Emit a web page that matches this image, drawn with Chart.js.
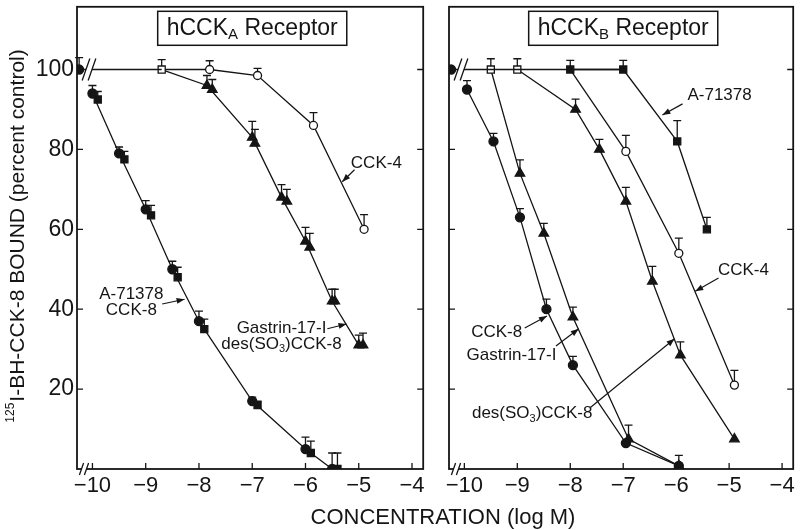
<!DOCTYPE html>
<html lang="en">
<head>
<meta charset="utf-8">
<title>hCCK receptor binding</title>
<script src="https://cdn.jsdelivr.net/npm/chart.js@4.4.1/dist/chart.umd.min.js"></script>
<style>
  html, body { margin: 0; padding: 0; background: #fff; }
  #wrap { position: relative; width: 800px; height: 530px; overflow: hidden; }
  canvas { position: absolute; top: 0; }
  #cA { left: 0; }
  #cB { left: 430px; }
  #xTitle { position: absolute; left: 0; width: 886px; top: 504px; text-align: center;
            font: 22px "Liberation Sans", Arial, sans-serif; color: #151515; }
</style>
</head>
<body>
<div id="wrap">
  <canvas id="cA" width="430" height="530"></canvas>
  <canvas id="cB" width="370" height="530"></canvas>
  <div id="xTitle">CONCENTRATION (log M)</div>
</div>
<script>
// ejes
const xTickVals = [-10, -9, -8, -7, -6, -5, -4];
const yTickVals = [20, 40, 60, 80, 100];

// panel izquierdo: hCCK-A
const ctrlAX = [-10.25, -8.7];
const ctrlAY = [100, 100];
const ctrlAErr = [3, 0];
const cck8AX = [-10.0, -9.5, -9.0, -8.5, -8.0, -7.0, -6.0, -5.5];
const cck8AY = [94, 79, 65, 50, 37, 17, 5, 0];
const cck8AErr = [2, 1.6, 2.2, 2, 2.5, 1, 3, 4];
const a71AX = [-9.9, -9.4, -8.9, -8.4, -7.9, -6.9, -5.9, -5.4];
const a71AY = [92.5, 77.5, 63.5, 48, 35, 16, 4, 0];
const a71AErr = [2, 2, 2.5, 2.5, 2.5, 1, 3, 4];
const cck4AX = [-8.7, -7.8, -6.9, -5.85, -4.9];
const cck4AY = [100, 100, 98.5, 86, 60];
const cck4AErr = [2.5, 2.2, 1.8, 3.2, 3.7];
const gasAX = [-8.7, -7.85, -7.0, -6.45, -6.0, -5.5, -5.0];
const gasAY = [100, 96, 83, 68, 57, 42, 31];
const gasAErr = [0, 2.5, 4, 3.2, 3.5, 3, 2.5];
const desAX = [-7.75, -6.95, -6.35, -5.92, -5.45, -4.92];
const desAY = [95, 81.5, 67, 55.5, 42, 31];
const desAErr = [2.5, 3.5, 3, 3.5, 3, 3];

// panel derecho: hCCK-B
const ctrlBX = [-10.25, -7.0];
const ctrlBY = [100, 100];
const ctrlBErr = [0, 0];
const cck8BX = [-9.95, -9.45, -8.95, -8.45, -7.95, -6.95, -5.95];
const cck8BY = [95, 82, 63, 40, 26, 6.5, 0.8];
const cck8BErr = [2.2, 2, 2.2, 2.5, 2.2, 0, 2.6];
const gasBX = [-9.5, -8.95, -8.5, -7.95, -6.9, -5.95];
const gasBY = [100, 74, 59, 38, 7.5, 0.8];
const gasBErr = [2.7, 3.4, 2.5, 2.5, 3.5, 0];
const desBX = [-9.0, -7.9, -7.45, -6.95, -6.45, -5.92, -4.9];
const desBY = [100, 90, 80, 67, 47, 28.5, 7.5];
const desBErr = [2.7, 2.6, 2.5, 3.5, 3.7, 3.3, 0];
const cck4BX = [-8.0, -6.95, -5.95, -4.9];
const cck4BY = [100, 79.5, 54, 21];
const cck4BErr = [0, 4, 3.8, 3.7];
const a71BX = [-8.0, -7.0, -5.98, -5.42];
const a71BY = [100, 100, 82, 60];
const a71BErr = [2.3, 2.3, 5.2, 3];

const INK = '#151515';
const FONT = '"Liberation Sans", Arial, Helvetica, sans-serif';

const DOT = { shape: 'circle', r: 4.5, fill: INK };
const RING = { shape: 'circle', r: 4, fill: '#fff' };
const BOX = { shape: 'rect', r: 5, fill: INK };
const TRI = { shape: 'triangle', r: 5.5, fill: INK };

function series(xs, ys, errs, mark, extra) {
    return Object.assign({
        data: xs.map((x, i) => ({ x: x, y: ys[i] })),
        errs: errs,
        showLine: true,
        borderColor: INK,
        borderWidth: 1.3,
        pointStyle: mark.shape,
        pointRadius: mark.r,
        pointBackgroundColor: mark.fill,
        pointBorderColor: INK,
        pointBorderWidth: 1.3
    }, extra || {});
}
// primer punto como cuadrado abierto
const openFirst = m => ({
    pointStyle: c => c.dataIndex === 0 ? 'rect' : m.shape,
    pointBackgroundColor: c => c.dataIndex === 0 ? '#fff' : m.fill,
    pointRadius: c => c.dataIndex === 0 ? 5 : m.r
});
const hideFirst = m => ({ pointRadius: c => c.dataIndex === 0 ? 0 : m.r });
const onlyFirst = { pointRadius: c => c.dataIndex === 0 ? 4.5 : 0 };

// textos: [texto, subindice]
const titleA = [['hCCK'], ['A', true], [' Receptor']];
const titleB = [['hCCK'], ['B', true], [' Receptor']];
const SO3 = [['des(SO'], ['3', true], [')CCK-8']];

const notesA = [
    { x: -4.67, y: 76.4, lines: [[['CCK-4']]], from: [-5.08, 74.9], to: [-5.31, 71.9] },
    { x: -9.27, y: 43.8, lines: [[['A-71378']], [['CCK-8']]], from: [-8.69, 41.3], to: [-8.27, 42.5] },
    { x: -6.45, y: 35.3, lines: [[['Gastrin-17-I']], SO3], from: [-5.59, 35.1], to: [-5.23, 36.3] }
];
const notesB = [
    { x: -5.18, y: 93.5, lines: [[['A-71378']]], from: [-5.88, 91.4], to: [-6.26, 88.6] },
    { x: -4.73, y: 49.8, lines: [[['CCK-4']]], from: [-5.2, 47.8], to: [-5.64, 44.5] },
    { x: -9.39, y: 34.3, lines: [[['CCK-8']]], from: [-8.86, 35.3], to: [-8.44, 38.3] },
    { x: -9.11, y: 28.4, lines: [[['Gastrin-17-I']]], from: [-8.27, 30.8], to: [-7.84, 35.1] },
    { x: -8.72, y: 13.9, lines: [SO3], from: [-7.62, 15.4], to: [-6.03, 32.6] }
];

function partFont(p, size) {
    return (p[1] ? Math.round(size * 0.65) : size) + 'px ' + FONT;
}
function richWidth(ctx, parts, size) {
    let w = 0;
    parts.forEach(p => { ctx.font = partFont(p, size); w += ctx.measureText(p[0]).width; });
    return w;
}
function drawRich(ctx, parts, cx, cy, size) {
    const w = richWidth(ctx, parts, size);
    let x = cx - w / 2;
    ctx.textAlign = 'left';
    ctx.textBaseline = 'middle';
    ctx.fillStyle = INK;
    parts.forEach(p => {
        ctx.font = partFont(p, size);
        ctx.fillText(p[0], x, p[1] ? cy + size * 0.3 : cy);
        x += ctx.measureText(p[0]).width;
    });
    return w;
}
function drawArrow(ctx, x1, y1, x2, y2) {
    ctx.beginPath(); ctx.moveTo(x1, y1); ctx.lineTo(x2, y2); ctx.stroke();
    const a = Math.atan2(y2 - y1, x2 - x1), L = 8, W = 3;
    ctx.beginPath();
    ctx.moveTo(x2, y2);
    ctx.lineTo(x2 - L * Math.cos(a) + W * Math.sin(a), y2 - L * Math.sin(a) - W * Math.cos(a));
    ctx.lineTo(x2 - L * Math.cos(a) - W * Math.sin(a), y2 - L * Math.sin(a) + W * Math.cos(a));
    ctx.closePath(); ctx.fill();
}
function drawBreak(ctx, cx, cy, h, gap) {
    const dx = h * 0.35;
    ctx.fillStyle = '#fff';
    ctx.beginPath();
    ctx.moveTo(cx - gap / 2 - dx, cy + h); ctx.lineTo(cx - gap / 2 + dx, cy - h);
    ctx.lineTo(cx + gap / 2 + dx, cy - h); ctx.lineTo(cx + gap / 2 - dx, cy + h);
    ctx.closePath(); ctx.fill();
    ctx.beginPath();
    ctx.moveTo(cx - gap / 2 - dx, cy + h); ctx.lineTo(cx - gap / 2 + dx, cy - h);
    ctx.moveTo(cx + gap / 2 - dx, cy + h); ctx.lineTo(cx + gap / 2 + dx, cy - h);
    ctx.stroke();
}

const deco = {
    id: 'deco',
    beforeDatasetsDraw(chart) {
        // barras de error (solo hacia arriba)
        const { ctx, scales: { y } } = chart;
        ctx.save();
        ctx.strokeStyle = INK; ctx.lineWidth = 1.3;
        chart.data.datasets.forEach((ds, i) => {
            if (!ds.errs) return;
            chart.getDatasetMeta(i).data.forEach((pt, j) => {
                const e = ds.errs[j];
                if (!e) return;
                const top = y.getPixelForValue(ds.data[j].y + e);
                ctx.beginPath();
                ctx.moveTo(pt.x, pt.y); ctx.lineTo(pt.x, top);
                ctx.moveTo(pt.x - 4, top); ctx.lineTo(pt.x + 4, top);
                ctx.stroke();
            });
        });
        ctx.restore();
    },
    afterDraw(chart, args, o) {
        const { ctx, chartArea: a, scales: { x, y } } = chart;
        ctx.save();
        ctx.strokeStyle = INK; ctx.fillStyle = INK;
        ctx.lineWidth = 1.8;
        ctx.strokeRect(a.left, a.top, a.right - a.left, a.bottom - a.top);
        ctx.lineWidth = 1.3;
        ctx.beginPath();
        xTickVals.forEach(v => {
            const px = x.getPixelForValue(v);
            ctx.moveTo(px, a.bottom); ctx.lineTo(px, a.bottom - 6);
        });
        yTickVals.forEach(v => {
            const py = y.getPixelForValue(v);
            ctx.moveTo(a.left, py); ctx.lineTo(a.left + 6, py);
            ctx.moveTo(a.right, py); ctx.lineTo(a.right - 6, py);
        });
        ctx.stroke();

        // cortes del eje
        drawBreak(ctx, a.left + 12, y.getPixelForValue(100), 11, 6);
        drawBreak(ctx, a.left + 7, a.bottom, 6, 5);

        // recuadro del título
        const tcx = x.getPixelForValue(-7), tcy = a.top + 21.5;
        const tw = richWidth(ctx, o.title, 23);
        ctx.fillStyle = '#fff';
        ctx.fillRect(tcx - tw / 2 - 9, tcy - 17, tw + 18, 34);
        ctx.lineWidth = 1.5;
        ctx.strokeRect(tcx - tw / 2 - 9, tcy - 17, tw + 18, 34);
        drawRich(ctx, o.title, tcx, tcy, 23);

        // etiquetas con flechas
        ctx.lineWidth = 1.2;
        o.notes.forEach(n => {
            const nx = x.getPixelForValue(n.x), ny = y.getPixelForValue(n.y);
            n.lines.forEach((ln, k) => drawRich(ctx, ln, nx, ny + k * 16, 17));
            ctx.fillStyle = INK;
            drawArrow(ctx, x.getPixelForValue(n.from[0]), y.getPixelForValue(n.from[1]),
                x.getPixelForValue(n.to[0]), y.getPixelForValue(n.to[1]));
        });

        if (o.yTitle) {
            ctx.translate(18, 236);
            ctx.rotate(-Math.PI / 2);
            ctx.fillStyle = INK;
            ctx.textAlign = 'left'; ctx.textBaseline = 'middle';
            const rest = 'I-BH-CCK-8 BOUND (percent control)';
            ctx.font = '12px ' + FONT;
            const w1 = ctx.measureText('125').width;
            ctx.font = '21px ' + FONT;
            const w2 = ctx.measureText(rest).width;
            const sx = -(w1 + w2 + 1) / 2;
            ctx.font = '12px ' + FONT;
            ctx.fillText('125', sx, -7);
            ctx.font = '21px ' + FONT;
            ctx.fillText(rest, sx + w1 + 1, 0);
        }
        ctx.restore();
    }
};

function makeOptions(axisWidth, padRight, showYLabels, title, notes) {
    return {
        responsive: false,
        animation: false,
        events: [],
        layout: { padding: { top: 4, right: padRight, left: 0, bottom: 0 } },
        plugins: {
            legend: { display: false },
            tooltip: { enabled: false },
            deco: { title: title, notes: notes, yTitle: showYLabels }
        },
        scales: {
            x: {
                type: 'linear', min: -10.29, max: -3.79,
                grid: { display: false, drawTicks: false },
                border: { display: false },
                afterBuildTicks: s => { s.ticks = xTickVals.map(v => ({ value: v })); },
                afterFit: s => { s.height = 61; s.paddingLeft = 0; s.paddingRight = 0; },
                ticks: {
                    autoSkip: false, maxRotation: 0, padding: 4, color: INK,
                    font: { family: FONT, size: 22 },
                    callback: v => '\u2212' + Math.abs(v)
                }
            },
            y: {
                type: 'linear', min: 0, max: 115.7,
                grid: { display: false, drawTicks: false },
                border: { display: false },
                afterBuildTicks: s => { s.ticks = yTickVals.map(v => ({ value: v })); },
                afterFit: s => { s.width = axisWidth; s.paddingTop = 0; s.paddingBottom = 0; },
                ticks: {
                    display: showYLabels, padding: 3, color: INK,
                    font: { family: FONT, size: 23 }
                }
            }
        }
    };
}

new Chart(document.getElementById('cA'), {
    type: 'scatter',
    data: {
        datasets: [
            series(ctrlAX, ctrlAY, ctrlAErr, DOT, onlyFirst),
            series(cck8AX, cck8AY, cck8AErr, DOT),
            series(a71AX, a71AY, a71AErr, BOX, { showLine: false }),
            series(cck4AX, cck4AY, cck4AErr, RING, openFirst(RING)),
            series(gasAX, gasAY, gasAErr, TRI, hideFirst(TRI)),
            series(desAX, desAY, desAErr, TRI, { showLine: false })
        ]
    },
    options: makeOptions(77, 5, true, titleA, notesA),
    plugins: [deco]
});

new Chart(document.getElementById('cB'), {
    type: 'scatter',
    data: {
        datasets: [
            series(ctrlBX, ctrlBY, ctrlBErr, DOT, onlyFirst),
            series(cck8BX, cck8BY, cck8BErr, DOT),
            series(gasBX, gasBY, gasBErr, TRI, openFirst(TRI)),
            series(desBX, desBY, desBErr, TRI, openFirst(TRI)),
            series(cck4BX, cck4BY, cck4BErr, RING, hideFirst(RING)),
            series(a71BX, a71BY, a71BErr, BOX)
        ]
    },
    options: makeOptions(19, 3, false, titleB, notesB),
    plugins: [deco]
});
</script>
</body>
</html>
